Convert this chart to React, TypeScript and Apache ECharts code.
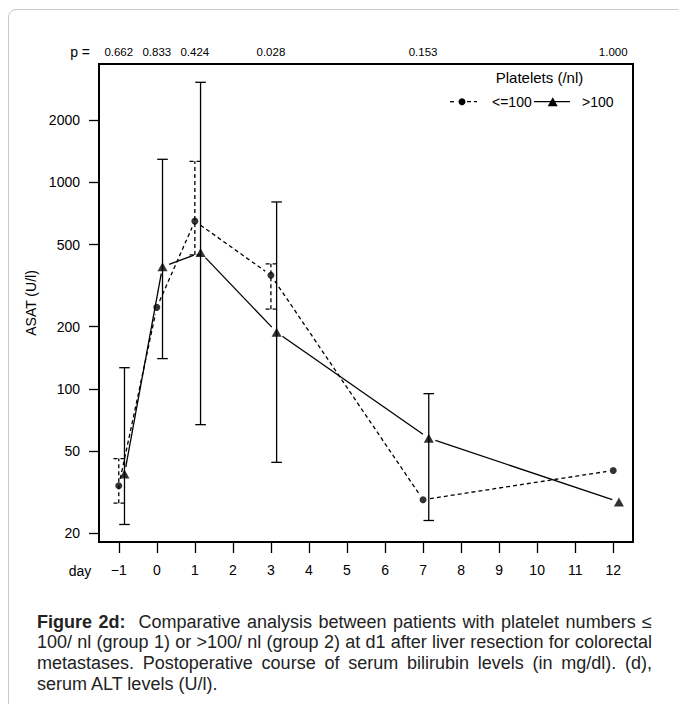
import React, { useEffect, useRef } from "react";
import * as echarts from "echarts";

// ---- data ----
const days = [-1, 0, 1, 3, 7, 12];
const xTicks = [-1, 0, 1, 2, 3, 4, 5, 6, 7, 8, 9, 10, 11, 12];
const yTicks = [20, 50, 100, 200, 500, 1000, 2000];
const pValues = ["0.662", "0.833", "0.424", "0.028", "0.153", "1.000"];
const groupNames = ["<=100", ">100"];
const groupOffsets = [0, 0.15];

const lowMeans = [33.9, 248, 649, 355, 29.0, 40.2];
const lowErrLo: (number | null)[] = [27.9, null, 445, 243, null, null];
const lowErrHi: (number | null)[] = [45.9, null, 1265, 403, null, null];

const highMeans = [38.6, 390, 457, 188, 57.6, 28.3];
const highErrLo: (number | null)[] = [22.0, 140, 67, 44, 23.0, null];
const highErrHi: (number | null)[] = [126.5, 1294, 3055, 804, 94.7, null];

const captionLines = [
  "Comparative analysis between patients with platelet numbers \u2264",
  "100/ nl (group 1) or >100/ nl (group 2) at d1 after liver resection for colorectal",
  "metastases. Postoperative course of serum bilirubin levels (in mg/dl). (d),",
  "serum ALT levels (U/l).",
];

const FONT = "'Liberation Sans', Arial, Helvetica, sans-serif";
const lg = (v: number) => Math.log10(v);
const X_MIN = -1.52;
const X_MAX = 12.52;
const Y_MIN = 1.2575;
const Y_MAX = 3.5737;

const GRID = { left: 99, top: 64, right: 45, bottom: 162 };
const W = 678;
const H = 704;

function segData(means: number[], off: number) {
  const out: number[][] = [];
  for (let i = 0; i < means.length - 1; i++) {
    out.push([days[i] + off, lg(means[i]), days[i + 1] + off, lg(means[i + 1])]);
  }
  return out;
}

function errData(lo: (number | null)[], hi: (number | null)[], off: number) {
  const out: number[][] = [];
  for (let i = 0; i < days.length; i++) {
    const l = lo[i];
    const h = hi[i];
    if (l != null && h != null) out.push([days[i] + off, lg(l), lg(h)]);
  }
  return out;
}

function lineSeries(means: number[], off: number, dashed: boolean) {
  return {
    type: "custom",
    xAxisIndex: 0,
    yAxisIndex: 0,
    data: segData(means, off),
    encode: { x: [0, 2], y: [1, 3] },
    clip: false,
    z: 2,
    renderItem: (_p: any, api: any) => {
      const a = api.coord([api.value(0), api.value(1)]);
      const b = api.coord([api.value(2), api.value(3)]);
      const dx = b[0] - a[0];
      const dy = b[1] - a[1];
      const L = Math.hypot(dx, dy);
      const g = 7;
      if (L <= 2 * g) return null;
      const ux = dx / L;
      const uy = dy / L;
      return {
        type: "line",
        shape: { x1: a[0] + ux * g, y1: a[1] + uy * g, x2: b[0] - ux * g, y2: b[1] - uy * g },
        style: { stroke: "#000", lineWidth: 1.3, lineDash: dashed ? [4, 3] : null },
      };
    },
  };
}

function errSeries(lo: (number | null)[], hi: (number | null)[], off: number, dashed: boolean) {
  return {
    type: "custom",
    xAxisIndex: 0,
    yAxisIndex: 0,
    data: errData(lo, hi, off),
    encode: { x: 0, y: [1, 2] },
    clip: false,
    z: 3,
    renderItem: (_p: any, api: any) => {
      const pl = api.coord([api.value(0), api.value(1)]);
      const ph = api.coord([api.value(0), api.value(2)]);
      const w = 5.3;
      const style = { stroke: "#000", lineWidth: 1.3, lineDash: dashed ? [4, 3] : null };
      return {
        type: "group",
        children: [
          { type: "line", shape: { x1: pl[0], y1: pl[1], x2: ph[0], y2: ph[1] }, style },
          { type: "line", shape: { x1: ph[0] - w, y1: ph[1], x2: ph[0] + w, y2: ph[1] }, style },
          { type: "line", shape: { x1: pl[0] - w, y1: pl[1], x2: pl[0] + w, y2: pl[1] }, style },
        ],
      };
    },
  };
}

function buildOption() {
  const txt = { color: "#000", fontFamily: FONT };
  const x0 = GRID.left;
  const y0 = GRID.top;
  const x1 = W - GRID.right;
  const y1 = H - GRID.bottom;
  return {
    animation: false,
    backgroundColor: "transparent",
    grid: { ...GRID },
    xAxis: [
      {
        type: "value",
        position: "bottom",
        min: X_MIN,
        max: X_MAX,
        axisLine: { show: false, onZero: false },
        splitLine: { show: false },
        axisTick: { show: true, customValues: xTicks, length: 11, lineStyle: { color: "#000", width: 1.3 } },
        axisLabel: {
          customValues: xTicks,
          margin: 21,
          fontSize: 14,
          ...txt,
          formatter: (v: number) => (v < 0 ? "\u2212" + Math.abs(v) : String(v)),
        },
      },
      {
        type: "value",
        position: "top",
        min: X_MIN,
        max: X_MAX,
        axisLine: { show: false, onZero: false },
        splitLine: { show: false },
        axisTick: { show: false },
        axisLabel: {
          customValues: days,
          margin: 6,
          fontSize: 11.5,
          ...txt,
          formatter: (v: number) => pValues[days.indexOf(Math.round(v))] ?? "",
        },
      },
    ],
    yAxis: {
      type: "value",
      position: "left",
      min: Y_MIN,
      max: Y_MAX,
      name: "ASAT (U/l)",
      nameLocation: "middle",
      nameRotate: 90,
      nameGap: 57,
      nameTextStyle: { fontSize: 14, ...txt },
      axisLine: { show: false, onZero: false },
      splitLine: { show: false },
      axisTick: { show: true, customValues: yTicks.map(lg), length: 10, lineStyle: { color: "#000", width: 1.3 } },
      axisLabel: {
        customValues: yTicks.map(lg),
        margin: 19,
        fontSize: 14,
        ...txt,
        formatter: (v: number) => String(Math.round(Math.pow(10, v))),
      },
    },
    series: [
      lineSeries(lowMeans, groupOffsets[0], true),
      lineSeries(highMeans, groupOffsets[1], false),
      errSeries(lowErrLo, lowErrHi, groupOffsets[0], true),
      errSeries(highErrLo, highErrHi, groupOffsets[1], false),
      {
        name: groupNames[0],
        type: "scatter",
        xAxisIndex: 0,
        yAxisIndex: 0,
        data: lowMeans.map((v, i) => [days[i] + groupOffsets[0], lg(v)]),
        symbol: "circle",
        symbolSize: 7,
        itemStyle: { color: "#000" },
        z: 4,
      },
      {
        name: groupNames[1],
        type: "scatter",
        xAxisIndex: 0,
        yAxisIndex: 0,
        data: highMeans.map((v, i) => [days[i] + groupOffsets[1], lg(v)]),
        symbol: "triangle",
        symbolSize: [10, 9],
        itemStyle: { color: "#000" },
        z: 4,
      },
    ],
    graphic: [
      // plot box
      {
        type: "rect",
        shape: { x: x0, y: y0, width: x1 - x0, height: y1 - y0 },
        style: { fill: "rgba(0,0,0,0)", stroke: "#000", lineWidth: 2 },
      },
      { type: "text", x: 90, y: 52, style: { text: "p =", align: "right", verticalAlign: "middle", fontSize: 14, fill: "#000", fontFamily: FONT } },
      { type: "text", x: 80, y: 571, style: { text: "day", align: "center", verticalAlign: "middle", fontSize: 14, fill: "#000", fontFamily: FONT } },
      { type: "text", x: 539.5, y: 77, style: { text: "Platelets (/nl)", align: "center", verticalAlign: "middle", fontSize: 15, fill: "#000", fontFamily: FONT } },
      { type: "line", shape: { x1: 450, y1: 101.7, x2: 457, y2: 101.7 }, style: { stroke: "#000", lineWidth: 1.3, lineDash: [4, 3] } },
      { type: "line", shape: { x1: 467, y1: 101.7, x2: 477, y2: 101.7 }, style: { stroke: "#000", lineWidth: 1.3, lineDash: [4, 3] } },
      { type: "circle", shape: { cx: 462, cy: 101.7, r: 3.5 }, style: { fill: "#000" } },
      { type: "text", x: 492, y: 102, style: { text: groupNames[0], align: "left", verticalAlign: "middle", fontSize: 14, fill: "#000", fontFamily: FONT } },
      { type: "line", shape: { x1: 534, y1: 101.7, x2: 570, y2: 101.7 }, style: { stroke: "#000", lineWidth: 1.3 } },
      { type: "polygon", shape: { points: [[552.7, 97.2], [547.7, 106.2], [557.7, 106.2]] }, style: { fill: "#000" } },
      { type: "text", x: 582, y: 102, style: { text: groupNames[1], align: "left", verticalAlign: "middle", fontSize: 14, fill: "#000", fontFamily: FONT } },
    ],
  };
}

export default function App() {
  const ref = useRef<HTMLDivElement>(null);
  useEffect(() => {
    if (!ref.current) return;
    const chart = echarts.init(ref.current, null, { renderer: "svg" });
    chart.setOption(buildOption() as any);
    return () => chart.dispose();
  }, []);

  const lineStyle = (last: boolean): React.CSSProperties => ({
    textAlign: last ? "left" : "justify",
    textAlignLast: last ? "left" : "justify",
    whiteSpace: "nowrap",
    height: 20.8,
    lineHeight: "20.8px",
  });

  return (
    <div style={{ position: "fixed", left: 0, top: 0, width: W, height: H, background: "#fff", overflow: "hidden" }}>
      <div
        style={{
          position: "absolute",
          left: 8,
          top: 9,
          width: 720,
          height: 760,
          border: "1px solid #c8c8c8",
          borderTopLeftRadius: 8,
          boxSizing: "border-box",
        }}
      />
      <div ref={ref} style={{ position: "absolute", left: 0, top: 0, width: W, height: H }} />
      <div
        style={{
          position: "absolute",
          left: 37,
          top: 611.5,
          width: 615,
          fontFamily: FONT,
          fontSize: 18,
          color: "#222",
        }}
      >
        {captionLines.map((t, i) => (
          <div key={i} style={lineStyle(i === captionLines.length - 1)}>
            {i === 0 ? (
              <>
                <b>Figure 2d:</b>
                {"\u00a0 " + t}
              </>
            ) : (
              t
            )}
          </div>
        ))}
      </div>
    </div>
  );
}
